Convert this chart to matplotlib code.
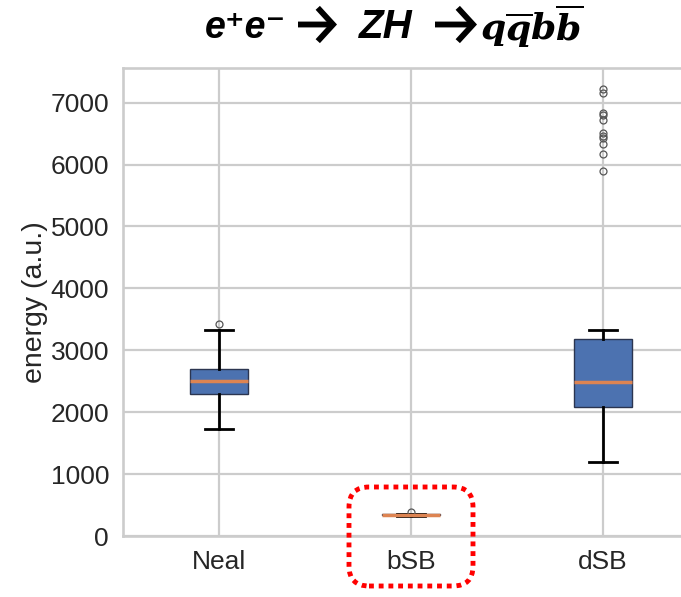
import matplotlib
matplotlib.use("Agg")
import matplotlib.pyplot as plt
from matplotlib.patches import FancyBboxPatch, FancyArrowPatch

plt.rcParams['font.family'] = ['Liberation Sans', 'DejaVu Sans']
plt.rcParams['mathtext.fontset'] = 'custom'
plt.rcParams['mathtext.it'] = 'DejaVu Serif:italic:bold'
plt.rcParams['mathtext.rm'] = 'DejaVu Serif:bold'

# box statistics
labels = ["Neal", "bSB", "dSB"]
whislo = [1730, 330, 1195]
q1 = [2295, 340, 2080]
med = [2510, 345, 2495]
q3 = [2705, 350, 3190]
whishi = [3330, 360, 3330]
fliers = [
    [3420],
    [390],
    [7220, 7155, 6835, 6800, 6720, 6510, 6460, 6430, 6335, 6170, 5900],
]
yticks = [0, 1000, 2000, 3000, 4000, 5000, 6000, 7000]

stats = []
for i, lab in enumerate(labels):
    stats.append(dict(label=lab, whislo=whislo[i], q1=q1[i], med=med[i],
                      q3=q3[i], whishi=whishi[i], fliers=fliers[i]))

fig = plt.figure(figsize=(6.81, 5.97), dpi=100)
# axes runs past the right edge of the picture (cropped original)
ax = fig.add_axes([123 / 681, 61 / 597, 576 / 681, 468 / 597])

ax.bxp(stats, widths=0.3, patch_artist=True,
       boxprops=dict(facecolor="#4C72B0", edgecolor="#2b3550", linewidth=1),
       medianprops=dict(color="#DD8452", linewidth=2.5),
       whiskerprops=dict(color="black", linewidth=2),
       capprops=dict(color="black", linewidth=2),
       flierprops=dict(marker="o", markersize=5, markerfacecolor="none",
                       markeredgecolor="#555555", markeredgewidth=0.9))

ax.set_xlim(0.5, 3.5)
ax.set_ylim(0, 7560)
ax.set_yticks(yticks)
ax.set_axisbelow(True)
ax.grid(True, color="#cccccc", linewidth=1.6)
for s in ax.spines.values():
    s.set_color("#cccccc")
    s.set_linewidth(1.9)
ax.tick_params(length=0, labelsize=19, labelcolor="#262626", pad=10)
ax.set_ylabel("energy (a.u.)", fontsize=20.5, color="#262626", labelpad=2)

# title pasted above the plot, built piece by piece (positions in inches)
base = 5.97 - 0.38
tkw = dict(fontweight="bold", fontstyle="italic", va="baseline",
           color="black", transform=fig.dpi_scale_trans)
fig.text(2.05, base, "e\u207ae\u207b", fontsize=27, ha="left", **tkw)
fig.text(3.59, base, "ZH", fontsize=29, ha="left", **tkw)
fig.text(4.80, 5.97 - 0.41, r"$\mathit{q\overline{q}b\overline{b}}$",
         fontsize=26, ha="left", va="baseline", color="black",
         transform=fig.dpi_scale_trans)
for x0, x1 in [(2.98, 3.37), (4.35, 4.77)]:
    arr = FancyArrowPatch((x0, 5.97 - 0.245), (x1, 5.97 - 0.245),
                          arrowstyle="->,head_length=0.55,head_width=0.6",
                          mutation_scale=20, linewidth=4.2, color="black",
                          transform=fig.dpi_scale_trans,
                          shrinkA=0, shrinkB=0, joinstyle="miter",
                          capstyle="butt")
    fig.add_artist(arr)

# red dotted highlight around bSB
box = FancyBboxPatch((3.49, 0.11), 1.24, 0.99,
                     boxstyle="round,pad=0,rounding_size=0.2",
                     transform=fig.dpi_scale_trans, fill=False,
                     edgecolor="#ff0000", linewidth=3.5,
                     linestyle=(0, (1, 1)))
fig.add_artist(box)

fig.savefig("out.png", dpi=100)
